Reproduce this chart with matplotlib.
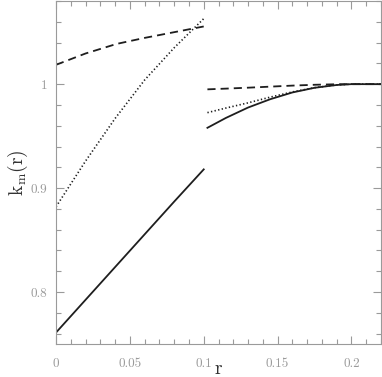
import matplotlib
matplotlib.use("Agg")
import matplotlib.pyplot as plt
from matplotlib.ticker import MultipleLocator

# values
r_dash_in = [0.0, 0.02, 0.041, 0.06, 0.08, 0.1]
k_dash_in = [1.0186, 1.0295, 1.0387, 1.0445, 1.0500, 1.0555]
r_in = [0.0, 0.02, 0.04, 0.06, 0.08, 0.1]
k_dot_in = [0.882, 0.926, 0.967, 1.004, 1.035, 1.063]
k_solid_in = [0.761, 0.7925, 0.824, 0.8555, 0.887, 0.918]

r_out = [0.1025, 0.115, 0.13, 0.145, 0.16, 0.175, 0.19, 0.2, 0.22]
k_dash_out = [0.995, 0.9957, 0.9966, 0.9976, 0.9986, 0.9994, 0.9999, 1.0, 1.0]
k_dot_out = [0.9726, 0.977, 0.982, 0.9875, 0.9925, 0.9966, 0.9993, 1.0, 1.0]
k_solid_out = [0.958, 0.9675, 0.9775, 0.9855, 0.992, 0.9965, 0.9992, 1.0, 1.0]

xticks = [0, 0.05, 0.1, 0.15, 0.2]
xticklabels = ["0", "0.05", "0.1", "0.15", "0.2"]
yticks = [0.8, 0.9, 1.0]
yticklabels = ["0.8", "0.9", "1"]

plt.rcParams["mathtext.fontset"] = "cm"
grey = "#9a9a9a"
ink = "#1e1e1e"

fig = plt.figure(figsize=(3.82, 3.77), dpi=100)
ax = fig.add_axes([56 / 382, 33 / 377, 325 / 382, 343 / 377])

ax.plot(r_dash_in, k_dash_in, color=ink, lw=1.3, dashes=(4.5, 2.8))
ax.plot(r_in, k_dot_in, color=ink, lw=1.2, dashes=(0.8, 1.4))
ax.plot(r_in, k_solid_in, color=ink, lw=1.3)
ax.plot(r_out, k_dash_out, color=ink, lw=1.3, dashes=(4.5, 2.8))
ax.plot(r_out, k_dot_out, color=ink, lw=1.2, dashes=(0.8, 1.4))
ax.plot(r_out, k_solid_out, color=ink, lw=1.3)

ax.set_xlim(0, 0.22)
ax.set_ylim(0.75, 1.08)
ax.set_xticks(xticks)
ax.set_xticklabels(xticklabels, fontfamily="cmr10", fontsize=9.5, color=grey)
ax.set_yticks(yticks)
ax.set_yticklabels(yticklabels, fontfamily="cmr10", fontsize=9.5, color=grey)
ax.xaxis.set_minor_locator(MultipleLocator(0.01))
ax.yaxis.set_minor_locator(MultipleLocator(0.02))

ax.tick_params(which="both", direction="in", top=True, right=True, color=grey, width=0.8)
ax.tick_params(which="major", length=6)
ax.tick_params(which="minor", length=3.5)
ax.tick_params(axis="x", which="major", pad=10)
ax.tick_params(axis="y", which="major", pad=6)
for s in ax.spines.values():
    s.set_color(grey)
    s.set_linewidth(0.8)

ax.set_xlabel(r"$\mathrm{r}$", fontsize=14, color="#333333", labelpad=-8)
ax.set_ylabel(r"$\mathrm{k_m(r)}$", fontsize=14, color="#333333", labelpad=1)

fig.savefig("out.png", dpi=100)
